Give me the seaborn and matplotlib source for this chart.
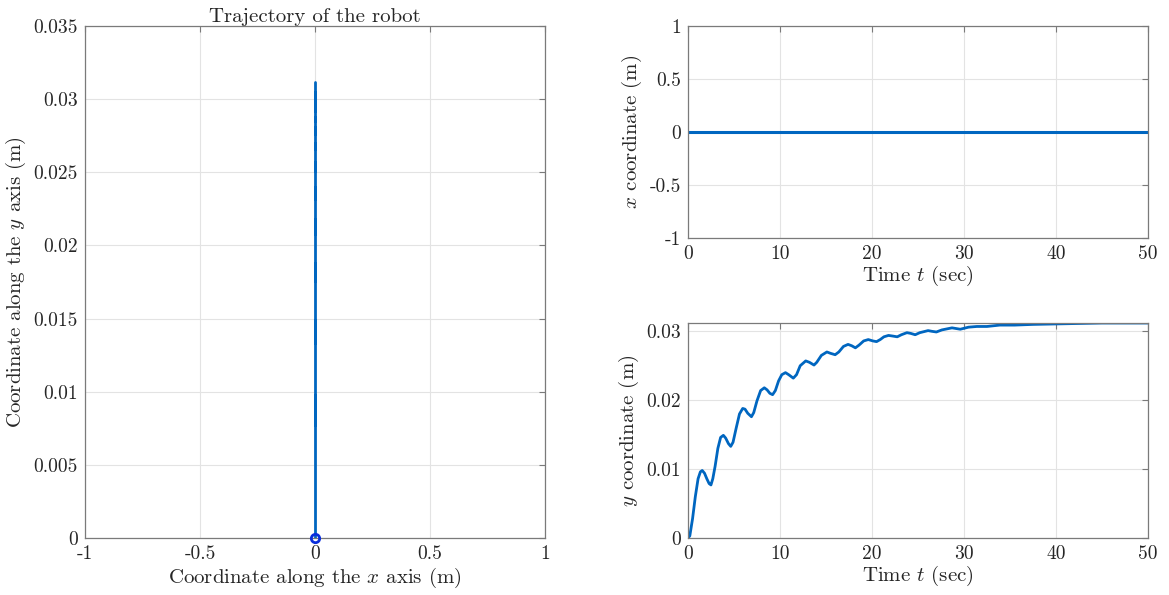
import matplotlib
matplotlib.use('Agg')
import matplotlib.pyplot as plt
import seaborn as sns
import pandas as pd
from matplotlib.ticker import FormatStrFormatter

# y coordinate of the robot (time in sec, y in m)
time = [0.0, 0.2, 0.5, 0.8, 1.1, 1.35, 1.55, 1.8, 2.05, 2.3, 2.5, 2.7, 2.95, 3.25, 3.55,
        3.85, 4.1, 4.4, 4.65, 4.9, 5.25, 5.6, 5.95, 6.2, 6.5, 6.9, 7.15, 7.5, 7.9, 8.3,
        8.6, 8.9, 9.2, 9.5, 9.85, 10.2, 10.6, 10.95, 11.45, 11.8, 12.2, 12.8, 13.2, 13.7,
        14.0, 14.5, 15.1, 15.5, 16.0, 16.4, 16.9, 17.4, 17.8, 18.2, 18.6, 19.1, 19.6,
        20.1, 20.5, 20.9, 21.3, 21.8, 22.3, 22.75, 23.2, 23.8, 24.2, 24.7, 25.2, 26.1,
        26.5, 27.0, 27.6, 28.7, 29.6, 30.5, 31.4, 32.5, 33.9, 35.5, 37.5, 41.2, 45.0, 50.0]
y_coord = [0.0, 0.0003, 0.0028, 0.0060, 0.0086, 0.0096, 0.0098, 0.0094, 0.0086, 0.0079,
           0.0077, 0.0086, 0.0104, 0.0130, 0.0146, 0.0149, 0.0145, 0.0137, 0.0133, 0.0139,
           0.0160, 0.0180, 0.0188, 0.0187, 0.0181, 0.0176, 0.0182, 0.0199, 0.0214, 0.0218,
           0.0215, 0.0210, 0.0208, 0.0214, 0.0228, 0.0237, 0.0240, 0.0237, 0.0232, 0.0237,
           0.0250, 0.0257, 0.0255, 0.0251, 0.0255, 0.0265, 0.0270, 0.0268, 0.0266, 0.0270,
           0.0278, 0.0281, 0.0279, 0.0276, 0.0280, 0.0286, 0.0288, 0.0286, 0.0285, 0.0288,
           0.0292, 0.0294, 0.0293, 0.0292, 0.0295, 0.0298, 0.0297, 0.0295, 0.0298, 0.0301,
           0.0300, 0.0299, 0.0302, 0.0305, 0.0303, 0.0306, 0.0307, 0.0307, 0.0309, 0.0309,
           0.0310, 0.0311, 0.0312, 0.0312]
# robot stays on the x = 0 line
x_coord = [0.0] * len(time)

df = pd.DataFrame({'t': time, 'x': x_coord, 'y': y_coord})

sns.set_style('white')
plt.rcParams['font.family'] = 'serif'
plt.rcParams['font.serif'] = ['cmr10', 'DejaVu Serif']
plt.rcParams['mathtext.fontset'] = 'cm'
plt.rcParams['axes.unicode_minus'] = False
plt.rcParams['axes.formatter.use_mathtext'] = True

blue = '#0066C0'
frame = '#7a7a7a'
tick_fs = 14
lab_fs = 15

fig = plt.figure(figsize=(11.69, 5.95), dpi=100)
ax1 = fig.add_axes([0.0727, 0.0958, 0.3935, 0.8605])
ax2 = fig.add_axes([0.5885, 0.6, 0.3935, 0.3563])
ax3 = fig.add_axes([0.5885, 0.0958, 0.3935, 0.3613])


def matlab_look(ax):
    ax.grid(True, color='#e3e3e3', lw=0.8)
    ax.set_axisbelow(True)
    for s in ax.spines.values():
        s.set_color(frame)
        s.set_linewidth(0.9)
    ax.tick_params(direction='in', top=True, right=True, color=frame,
                   length=4, labelsize=tick_fs, pad=5)
    ax.xaxis.set_major_formatter(FormatStrFormatter('%g'))
    ax.yaxis.set_major_formatter(FormatStrFormatter('%g'))


# 1. trajectory
sns.lineplot(data=df, x='x', y='y', ax=ax1, sort=False, estimator=None,
             color=blue, lw=2)
ax1.plot(df['x'][:1], df['y'][:1], 'o', mfc='none', mec='#0A2EDC', mew=2, ms=6,
         clip_on=False, zorder=5)
ax1.set_xlim(-1, 1)
ax1.set_ylim(0, 0.035)
ax1.set_xticks([-1, -0.5, 0, 0.5, 1])
ax1.set_yticks([0, 0.005, 0.01, 0.015, 0.02, 0.025, 0.03, 0.035])
ax1.set_title('Trajectory of the robot', fontsize=lab_fs, pad=3)
ax1.set_xlabel('Coordinate along the $x$ axis (m)', fontsize=lab_fs, labelpad=2)
ax1.set_ylabel('Coordinate along the $y$ axis (m)', fontsize=lab_fs, labelpad=4)
matlab_look(ax1)

# 2. x over time
sns.lineplot(data=df, x='t', y='x', ax=ax2, color=blue, lw=2.2)
ax2.set_xlim(0, 50)
ax2.set_ylim(-1, 1)
ax2.set_yticks([-1, -0.5, 0, 0.5, 1])
ax2.set_xlabel('Time $t$ (sec)', fontsize=lab_fs, labelpad=1)
ax2.set_ylabel('$x$ coordinate (m)', fontsize=lab_fs)
matlab_look(ax2)

# 3. y over time
sns.lineplot(data=df, x='t', y='y', ax=ax3, color=blue, lw=2)
ax3.set_xlim(0, 50)
ax3.set_ylim(0, max(y_coord))
ax3.set_yticks([0, 0.01, 0.02, 0.03])
ax3.set_xlabel('Time $t$ (sec)', fontsize=lab_fs, labelpad=1)
ax3.set_ylabel('$y$ coordinate (m)', fontsize=lab_fs)
matlab_look(ax3)

fig.savefig('out.png', dpi=100)
